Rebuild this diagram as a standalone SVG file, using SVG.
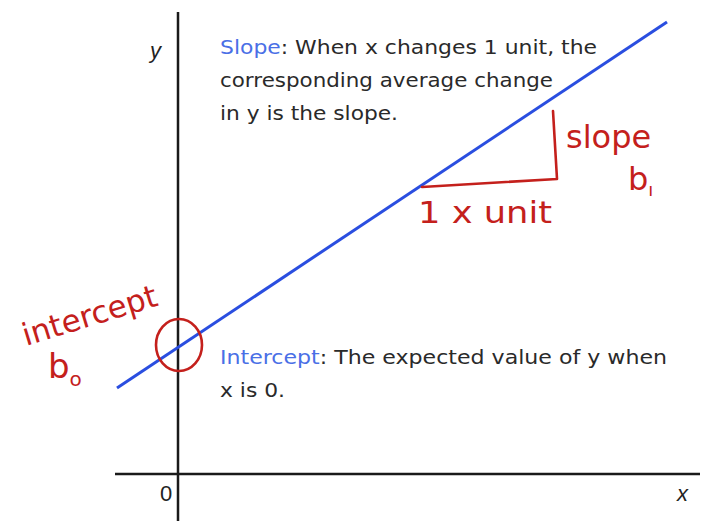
<svg xmlns="http://www.w3.org/2000/svg" width="715" height="529" viewBox="0 0 715 529">
<style>
.axis{stroke:#1a1a1a;stroke-width:2.5;fill:none}
.ink{stroke:#c4201c;stroke-width:2.6;fill:none;stroke-linecap:round;stroke-linejoin:round}
.txt{font-family:"DejaVu Sans",sans-serif;font-size:20px;fill:#2a2a2a}
.kw{fill:#4a6fe6}
.lab{font-family:"Liberation Sans",Arial,sans-serif;font-size:22px;font-style:italic;fill:#222}
.hand{font-family:"DejaVu Sans",sans-serif;fill:#c4201c}
</style>
<rect width="715" height="529" fill="#fff"/>
<g id="axes">
<line class="axis" x1="178" y1="12" x2="178" y2="521"/>
<line class="axis" x1="115" y1="474" x2="700" y2="474"/>
<text class="lab" x="150" y="58">y</text>
<text class="lab" x="677" y="501">x</text>
<text class="lab" x="160" y="501" style="font-style:normal">0</text>
</g>
<g id="connectors">
<line x1="117" y1="388" x2="667" y2="22" stroke="#2a4ee0" stroke-width="3"/>
<path class="ink" d="M422 187 L557 179 L553 111"/>
<ellipse class="ink" cx="179" cy="345" rx="23" ry="26"/>
</g>
<g id="slope-note">
<text class="txt" x="220" y="54" textLength="377" lengthAdjust="spacingAndGlyphs"><tspan class="kw">Slope</tspan>: When x changes 1 unit, the</text>
<text class="txt" x="220" y="87" textLength="333" lengthAdjust="spacingAndGlyphs">corresponding average change</text>
<text class="txt" x="220" y="120" textLength="178" lengthAdjust="spacingAndGlyphs">in y is the slope.</text>
</g>
<g id="intercept-note">
<text class="txt" x="220" y="364" textLength="447" lengthAdjust="spacingAndGlyphs"><tspan class="kw">Intercept</tspan>: The expected value of y when</text>
<text class="txt" x="220" y="397" textLength="65" lengthAdjust="spacingAndGlyphs">x is 0.</text>
</g>
<g id="intercept-label">
<text class="hand" font-size="31" transform="translate(26 346) rotate(-17)">intercept</text>
<text class="hand" font-size="34" x="48" y="378">b<tspan font-size="20" dy="8">o</tspan></text>
</g>
<g id="slope-label">
<text class="hand" font-size="32" x="566" y="148">slope</text>
<text class="hand" font-size="32" x="628" y="190">b<tspan font-size="18" dy="6">ı</tspan></text>
</g>
<g id="unit-label">
<text class="hand" font-size="31" x="418" y="223" textLength="134" lengthAdjust="spacingAndGlyphs">1 x unit</text>
</g>
</svg>
